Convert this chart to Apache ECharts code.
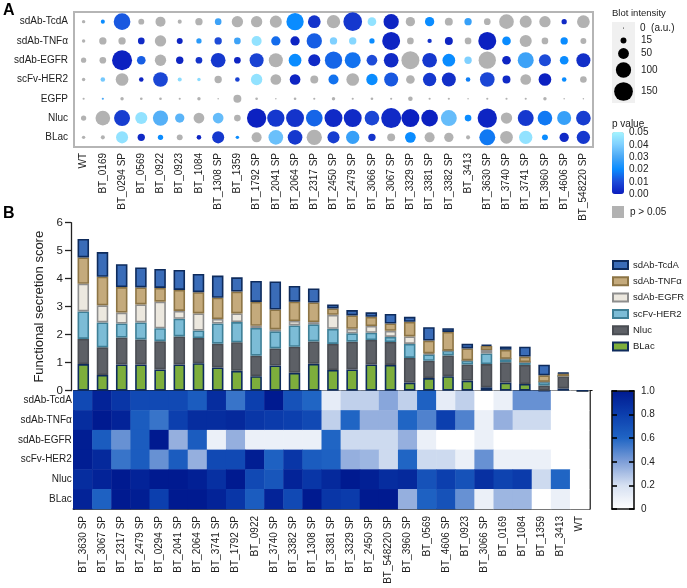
<!DOCTYPE html>
<html><head><meta charset="utf-8">
<style>html,body{margin:0;padding:0;background:#fff}#c{width:687px;height:588px}</style>
<script src="https://cdn.jsdelivr.net/npm/echarts@6/dist/echarts.min.js"></script>
</head><body><div id="c"></div>
<script>
const dotStrains=['WT','BT_0169','BT_0294 SP','BT_0569','BT_0922','BT_0923','BT_1084','BT_1308 SP','BT_1359','BT_1792 SP','BT_2041 SP','BT_2064 SP','BT_2317 SP','BT_2450 SP','BT_2479 SP','BT_3066 SP','BT_3067 SP','BT_3329 SP','BT_3381 SP','BT_3382 SP','BT_3413','BT_3630 SP','BT_3740 SP','BT_3741 SP','BT_3960 SP','BT_4606 SP','BT_548220 SP'];
const proteins=['sdAb-TcdA','sdAb-TNFα','sdAb-EGFR','scFv-HER2','EGFP','Nluc','BLac'];
const NS=0.5; // p > 0.05
const intensityTcdA=[5,7,119,15,43,7,23,19,55,55,62,128,69,76,149,32,100,37,37,27,23,19,92,62,55,12,69];
const pTcdA=[NS,.02,.012,NS,NS,NS,NS,.028,NS,NS,NS,.02,.005,NS,.006,.045,.002,NS,.02,NS,.027,NS,NS,NS,NS,.003,NS];
const intensityTNF=[5,23,23,19,55,15,12,23,19,43,37,37,100,23,23,12,138,19,8,27,19,138,32,62,19,23,15];
const pTNF=[NS,NS,NS,.003,NS,.002,.025,.01,.028,.045,.015,.002,.013,.04,.042,.02,.002,NS,.005,.002,NS,.001,.02,NS,NS,.02,NS];
const intensityEGFR=[12,19,171,32,55,23,19,92,19,84,84,69,62,128,109,49,92,138,92,69,23,128,32,109,62,32,84];
const pEGFR=[NS,NS,.001,.013,NS,.002,.005,.006,.002,.008,NS,.02,.003,.014,.016,.01,.003,NS,.006,.02,.04,NS,.002,.028,.01,.02,.004];
const intensityHER2=[5,9,69,9,92,7,5,23,9,55,49,49,27,43,69,55,84,32,76,84,9,92,27,49,69,9,19];
const pHER2=[NS,.038,NS,.002,.009,.043,.043,NS,.008,.045,NS,.002,NS,.016,NS,.02,.012,NS,.006,.004,.018,.009,.003,NS,.001,.02,NS];
const intensityEGFP=[2,2,5,3,3,2,5,1,27,3,1,3,2,5,2,3,2,9,2,2,1,2,2,2,5,1,1];
const pEGFP=[NS,.03,NS,NS,NS,NS,NS,NS,NS,NS,NS,NS,NS,NS,NS,NS,NS,NS,NS,NS,NS,NS,NS,NS,NS,NS,NS];
const intensityNluc=[12,92,109,62,100,37,49,49,19,160,128,138,119,138,138,92,171,138,119,109,19,160,55,109,92,84,92];
const pNluc=[NS,NS,.007,.045,.032,.033,NS,.035,NS,.001,.006,.005,.014,.003,.003,.009,.003,.001,.001,.035,.02,.002,NS,.006,.017,.027,.007];
const intensityBLac=[5,7,62,23,12,15,9,62,5,43,92,92,100,62,76,23,27,49,43,37,7,109,69,76,15,37,76];
const pBLac=[NS,NS,.045,.003,.02,NS,.002,.006,.02,NS,.036,.006,NS,.007,.027,.005,NS,.02,NS,NS,NS,.017,NS,.045,.02,.003,.006];
const dotIntensity=[intensityTcdA,intensityTNF,intensityEGFR,intensityHER2,intensityEGFP,intensityNluc,intensityBLac];
const dotP=[pTcdA,pTNF,pEGFR,pHER2,pEGFP,pNluc,pBLac];

const scoreStrains=['BT_3630 SP','BT_3067 SP','BT_2317 SP','BT_2479 SP','BT_0294 SP','BT_2041 SP','BT_2064 SP','BT_3741 SP','BT_1792 SP','BT_0922','BT_3740 SP','BT_3382 SP','BT_1308 SP','BT_3381 SP','BT_3329 SP','BT_2450 SP','BT_548220 SP','BT_3960 SP','BT_0569','BT_4606 SP','BT_0923','BT_3066 SP','BT_0169','BT_1084','BT_1359','BT_3413','WT'];
const scoreBLac=[.95,.56,.94,.94,.76,.94,.98,.83,.71,.52,.9,.64,.96,.74,.76,.94,.92,.29,.45,.52,.36,.12,.29,.24,0,.08,0];
const scoreNluc=[.9,.99,.96,.89,1.01,1,.9,.85,1.02,.73,.61,.93,.8,.93,.99,.87,.82,.88,.62,.74,.58,.83,.73,.68,.19,.44,0];
const scoreHER2=[.98,.89,.5,.61,.46,.63,.27,.72,.72,.99,.61,.76,.61,.54,.3,.26,.18,.5,.23,.17,.14,.38,.12,.1,.13,0,0];
const scoreEGFR=[.99,.61,.39,.64,.95,.28,.61,.16,.31,.08,.07,.16,.08,.5,.16,.24,.22,.27,.03,0,0,.12,0,0,0,0,0];
const scoreTNF=[.94,1.02,.91,.61,.49,.75,.76,.76,.78,.85,.71,.69,.7,.23,.48,.33,.26,.52,.46,.67,.43,.15,.32,.2,.23,.1,0];
const scoreTcdA=[.66,.88,.82,.71,.68,.71,.65,.79,.51,.75,1,.56,.5,.14,.19,.16,.34,.18,.48,.13,.17,.05,.12,.35,.38,.02,0];

const heatRows=['sdAb-TcdA','sdAb-TNFα','sdAb-EGFR','scFv-HER2','Nluc','BLac'];
const heatTcdA=[.75,.95,.85,.75,.75,.75,.65,.9,.55,.8,1,.7,.6,.12,.25,.25,.38,.25,.62,.12,.25,0,.1,.45,.45,0,0];
const heatTNF=[.9,1,.95,.65,.55,.8,.9,.9,.92,.85,.82,.8,.75,.25,.6,.35,.35,.6,.5,.8,.5,.1,.35,.22,.22,0,0];
const heatEGFR=[.98,.65,.45,.65,1,.35,.65,.1,.35,.1,.1,.1,.1,.6,.22,.22,.22,.35,.1,0,0,.1,0,0,0,0,0];
const heatHER2=[.98,.92,.55,.65,.45,.65,.35,.75,.75,.98,.62,.85,.65,.62,.35,.33,.22,.6,.22,.22,.1,.45,.1,.1,.1,0,0];
const heatNluc=[.9,.95,1,.95,1,1,.97,.88,1,.75,.68,.95,.85,.92,1,.97,.9,.92,.7,.8,.7,.88,.78,.82,.22,.6,0];
const heatBLac=[.95,.62,1,.98,.8,1,1,.95,.85,.65,.95,.75,1,.85,.82,1,1,.35,.62,.7,.45,.1,.33,.33,0,.1,0];
const heatValues=[heatTcdA,heatTNF,heatEGFR,heatHER2,heatNluc,heatBLac];

const blotLegendValues=[0,15,50,100,150];
const pTicks=['0.05','0.04','0.03','0.02','0.01','0.00'];

const F='"Liberation Sans",Arial,sans-serif', INK='#222';
const bubble=v=>Math.max(1,1.53*Math.sqrt(v));

const dotData=[];
dotIntensity.forEach((row,r)=>row.forEach((v,c)=>dotData.push([c,r,v,dotP[r][c]])));
const heatData=[];
heatValues.forEach((row,r)=>row.forEach((v,c)=>heatData.push([c,r,v])));

const stackDefs=[
 ['BLac',scoreBLac,'#7dae3c','#0e2b5c'],
 ['Nluc',scoreNluc,'#5d6066','#4a4d53'],
 ['scFv-HER2',scoreHER2,'#7cbcd6','#3f7f96'],
 ['sdAb-EGFR',scoreEGFR,'#ece8df','#8e8e8e'],
 ['sdAb-TNFα',scoreTNF,'#c4aa7c','#8c7445'],
 ['sdAb-TcdA',scoreTcdA,'#3a6cb8','#0e2b5c']];
const barSeries=stackDefs.map(([name,data,fill,edge])=>({name,type:'bar',stack:'score',xAxisIndex:1,yAxisIndex:1,barWidth:11.5,data,
  itemStyle:{color:fill,borderColor:edge,borderWidth:1.6}}));

const pGrad=['#0a1cbe','#1d4bd8','#0a8cff','#4aa8f5','#7fd0ff','#a4f4ff'];

const blotY=[28,40.5,53.5,70,91.5];
const legendGraphics=[
 {type:'text',left:3,top:3,style:{text:'A',font:'bold 16px '+F,fill:'#000'}},
 {type:'text',left:3,top:206,style:{text:'B',font:'bold 16px '+F,fill:'#000'}},
 {type:'text',left:612,top:8,style:{text:'Blot intensity',font:'9.5px '+F,fill:INK}},
 {type:'rect',shape:{x:612,y:22,width:23,height:81},style:{fill:'#f0f0f0'}},
 {type:'text',left:612,top:119,style:{text:'p value',font:'10px '+F,fill:INK}},
 {type:'rect',shape:{x:612,y:206,width:12,height:12},style:{fill:'#b2b2b2'}},
 {type:'text',left:630,top:207,style:{text:'p > 0.05',font:'10px '+F,fill:INK}}
];
blotLegendValues.forEach((v,i)=>{
 legendGraphics.push({type:'circle',z:5,shape:{cx:623.5,cy:blotY[i],r:bubble(v)/2},style:{fill:'#000'}});
 legendGraphics.push({type:'text',left:v===0?640:641,top:blotY[i]-5,style:{text:v===0?'0  (a.u.)':String(v),font:'10px '+F,fill:INK}});
});
pTicks.forEach((t,i)=>legendGraphics.push({type:'text',left:629,top:127.5+i*12.4,style:{text:t,font:'10px '+F,fill:INK}}));

const cbAxisBase={gridIndex:3,min:0,max:1,z:10};
const option={
 animation:false,
 textStyle:{fontFamily:F},
 graphic:legendGraphics,
 legend:{left:612,top:260,padding:0,orient:'vertical',icon:'rect',itemWidth:15,itemHeight:8,itemGap:6.3,selectedMode:false,
   data:['sdAb-TcdA','sdAb-TNFα','sdAb-EGFR','scFv-HER2','Nluc','BLac'],
   textStyle:{fontSize:9.5,color:INK,fontFamily:F}},
 grid:[
  {left:74,top:12,width:519,height:135,show:true,backgroundColor:'#fff',borderColor:'#b5b5b5',borderWidth:2},
  {left:73.7,top:222.7,width:518.4,height:168},
  {left:73.3,top:390.7,width:516,height:118.3},
  {left:612,top:391,width:22,height:118}
 ],
 xAxis:[
  {type:'category',gridIndex:0,data:dotStrains,axisLine:{show:false},axisTick:{length:3,alignWithLabel:true,lineStyle:{color:'#999'}},axisLabel:{rotate:90,fontSize:10,color:INK,interval:0,margin:6},splitLine:{show:false}},
  {type:'category',gridIndex:1,data:scoreStrains,axisLine:{show:true,lineStyle:{color:'#111',width:1.2}},axisTick:{show:false},axisLabel:{show:false}},
  {type:'category',gridIndex:2,data:scoreStrains,axisLine:{lineStyle:{color:'#111',width:1.6}},axisTick:{length:5,alignWithLabel:true,lineStyle:{color:'#111',width:1.4}},axisLabel:{rotate:90,fontSize:10,color:INK,interval:0,margin:7},splitArea:{show:false}},
  {...cbAxisBase,type:'value',position:'bottom',axisLine:{show:true,onZero:false,lineStyle:{color:'#111',width:1.6}},axisTick:{show:false},axisLabel:{show:false},splitLine:{show:false}},
  {...cbAxisBase,type:'value',position:'top',axisLine:{show:true,onZero:false,lineStyle:{color:'#111',width:1.6}},axisTick:{show:false},axisLabel:{show:false},splitLine:{show:false}}
 ],
 yAxis:[
  {type:'category',gridIndex:0,data:proteins,inverse:true,axisLine:{show:false},axisTick:{length:3,lineStyle:{color:'#999'},alignWithLabel:true},axisLabel:{fontSize:10,color:INK,margin:6},splitLine:{show:false}},
  {type:'value',gridIndex:1,min:0,max:6,interval:1,offset:2.7,name:'Functional secretion score',nameLocation:'middle',nameGap:5,nameTextStyle:{fontSize:13,color:INK},axisLine:{show:true,lineStyle:{color:'#222',width:1.3}},axisTick:{show:true,length:6,lineStyle:{color:'#222',width:1.3}},axisLabel:{fontSize:11.5,color:INK,margin:8},splitLine:{show:false}},
  {type:'category',gridIndex:2,data:heatRows,inverse:true,axisLine:{show:true,lineStyle:{color:'#111',width:1.6}},axisTick:{show:false},axisLabel:{fontSize:10,color:INK,margin:1.5},splitArea:{show:false}},
  {type:'category',gridIndex:2,data:heatRows,inverse:true,position:'right',axisLine:{show:true,lineStyle:{color:'#111',width:1.6}},axisTick:{show:false},axisLabel:{show:false}},
  {...cbAxisBase,type:'value',position:'right',interval:.2,axisLine:{show:true,onZero:false,lineStyle:{color:'#111',width:1.6}},axisTick:{show:true,inside:true,length:5,lineStyle:{color:'#000',width:1.6}},axisLabel:{fontSize:10,color:INK,margin:7,formatter:v=>(v===0?'0':v.toFixed(1))},splitLine:{show:false}},
  {...cbAxisBase,type:'value',position:'left',interval:.2,axisLine:{show:true,onZero:false,lineStyle:{color:'#111',width:1.6}},axisTick:{show:true,inside:true,length:5,lineStyle:{color:'#000',width:1.6}},axisLabel:{show:false},splitLine:{show:false}}
 ],
 visualMap:[
  {type:'continuous',seriesIndex:0,dimension:3,min:0,max:.05,unboundedRange:false,left:612,top:132,itemWidth:12,itemHeight:62,text:null,showLabel:false,calculable:false,realtime:false,hoverLink:false,
   inRange:{color:pGrad},outOfRange:{color:'#b2b2b2'},textStyle:{fontSize:0},padding:0},
  {type:'continuous',seriesIndex:1,dimension:2,min:0,max:1,left:612,top:391,itemWidth:22,itemHeight:118,calculable:false,hoverLink:false,
   inRange:{color:['#ffffff','#d6e0f1','#7f9fd8','#2065c4','#0c3fae','#001a90']},textStyle:{fontSize:0},padding:0}
 ],
 series:[
  {type:'scatter',xAxisIndex:0,yAxisIndex:0,data:dotData,symbol:'circle',symbolSize:d=>bubble(d[2]),itemStyle:{opacity:1},encode:{x:0,y:1}},
  {type:'heatmap',xAxisIndex:2,yAxisIndex:2,data:heatData,itemStyle:{borderWidth:0},encode:{x:0,y:1,value:2}},
  ...barSeries
 ]
};
const chart=echarts.init(document.getElementById('c'),null,{renderer:'canvas'});
chart.setOption(option);
</script></body></html>
